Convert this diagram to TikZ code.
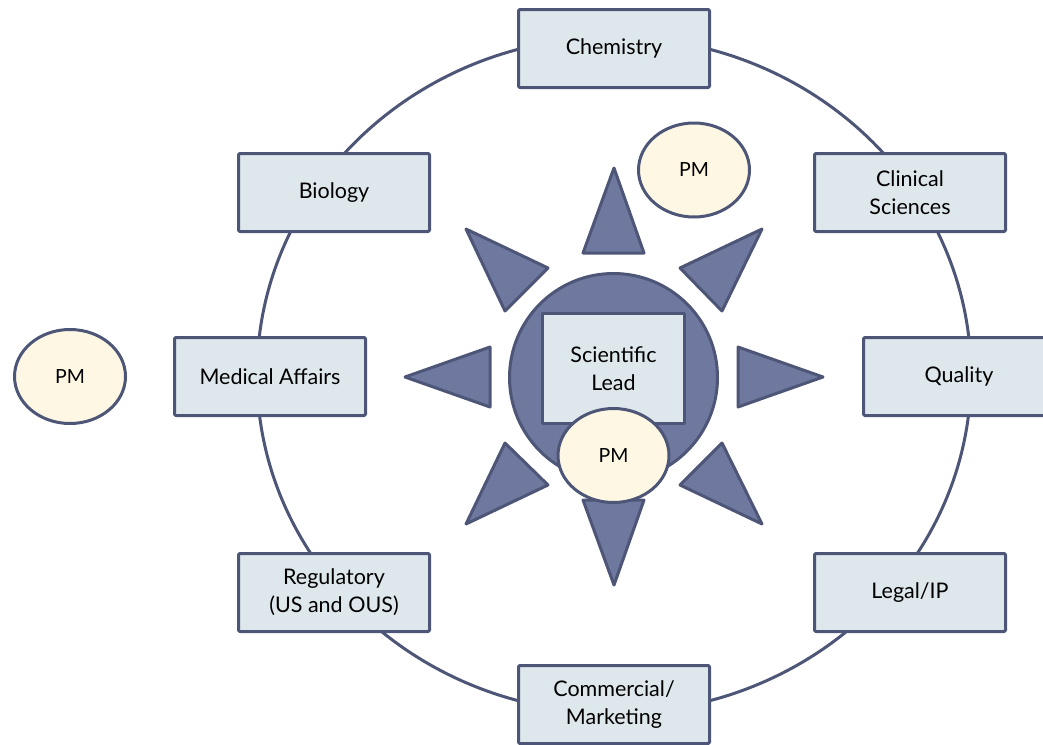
\documentclass[tikz,border=0pt]{standalone}
\usepackage{fontspec}
\setmainfont{Lato}
\usetikzlibrary{shapes.geometric}
\definecolor{edge}{HTML}{4E5677}
\definecolor{boxfill}{HTML}{DDE7EC}
\definecolor{sunfill}{HTML}{6F789E}
\definecolor{pmfill}{HTML}{FEF7E4}
\tikzset{
  lw/.style={line width=3pt, draw=edge, line join=round},
  area/.style={lw, fill=boxfill, rectangle, rounded corners=1.2pt, minimum width=191pt, minimum height=78pt, inner sep=0pt, align=center, font=\fontsize{21.5}{28}\selectfont},
  pm/.style={lw, fill=pmfill, ellipse, minimum width=111pt, minimum height=94pt, inner sep=0pt, font=\fontsize{19.5}{22}\selectfont},
  ray/.style={lw, fill=sunfill},
}
\begin{document}
\begin{tikzpicture}[x=1pt,y=-1pt]
\useasboundingbox (0,0) rectangle (1043,744);
% ring
\draw[lw] (614,375) ellipse [x radius=357pt, y radius=338pt];
% boxes
\node[area] (chem) at (614,48.5) {Chemistry};
\node[area] (comm) at (614,704.5) {Commercial/\\Marketing};
\node[area] (bio) at (334,192.5) {Biology};
\node[area] (clin) at (910,192.5) {Clinical\\Sciences};
\node[area] (med) at (270,376.5) {Medical Affairs};
\node[area] (qual) at (959,376.5) {Quality};
\node[area] (reg) at (334,592.5) {Regulatory\\(US and OUS)};
\node[area] (legal) at (910,592.5) {Legal/IP};
% sun rays
\draw[ray] (614,168) -- (644,253) -- (583,253) -- cycle;
\draw[ray] (466,229) -- (548,268) -- (505,311) -- cycle;
\draw[ray] (762,229) -- (680,268) -- (722,311) -- cycle;
\draw[ray] (405,377) -- (490,347) -- (490,407) -- cycle;
\draw[ray] (823,377) -- (738,347) -- (738,407) -- cycle;
\draw[ray] (466,524) -- (505,443) -- (548,485) -- cycle;
\draw[ray] (762,524) -- (722,443) -- (680,485) -- cycle;
\draw[ray] (614,585) -- (644,500) -- (583,500) -- cycle;
% center
\node[lw, fill=sunfill, circle, minimum size=208pt, inner sep=0pt] (sun) at (613.5,377.5) {};
\node[area, minimum width=142pt, minimum height=110pt, rounded corners=0pt] (lead) at (613.5,368.5) {Scientific\\Lead};
% PMs
\node[pm] (pmc) at (613.5,455.5) {PM};
\node[pm] (pmt) at (694,170) {PM};
\node[pm] (pml) at (70,376.5) {PM};
\end{tikzpicture}
\end{document}
